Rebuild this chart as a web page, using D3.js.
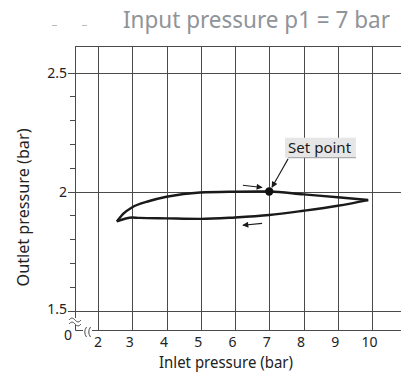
<!DOCTYPE html>
<html>
<head>
<meta charset="utf-8">
<script src="https://cdn.jsdelivr.net/npm/d3@7"></script>
<style>
  body { margin: 0; background: #fff; }
  svg { display: block; }
  text { font-family: "Noto Sans", "Open Sans", sans-serif; }
</style>
</head>
<body>
<svg id="chart" width="401" height="376"></svg>
<script>
// Axis ticks
const xTicks = [2, 3, 4, 5, 6, 7, 8, 9, 10];
const yMajor = [1.5, 2, 2.5];
const yMinor = [1.6, 1.7, 1.8, 1.9, 2.1, 2.2, 2.3, 2.4];

// Hysteresis loop: rising branch (upper) and falling branch (lower), inlet vs outlet pressure
const upperInlet  = [2.55, 2.75, 2.99, 3.5, 4.0, 4.98, 6.0, 7.0, 8.0, 9.0, 9.89];
const upperOutlet = [1.874, 1.908, 1.933, 1.960, 1.978, 1.996, 1.999, 2.0, 1.988, 1.976, 1.964];
const lowerInlet  = [2.55, 3.0, 3.2, 4.0, 5.0, 6.0, 7.0, 8.0, 9.0, 9.89];
const lowerOutlet = [1.874, 1.891, 1.889, 1.887, 1.885, 1.891, 1.901, 1.919, 1.940, 1.964];

const setPoint = { inlet: 7, outlet: 2 };
const titleText = "Input pressure p1 = 7 bar";

const svg = d3.select("#chart");
const W = 401;
const plotLeft = 75, plotTop = 46, plotBottom = 330.5;

const x = d3.scaleLinear().domain([2, 10]).range([98, 372]);
const y = d3.scaleLinear().domain([1.5, 2.5]).range([310.5, 72.5]);

const gridColor = "#4a4a4a";
const crisp = v => Math.round(v) + 0.5;

// Title
svg.append("text")
  .attr("x", 123).attr("y", 28)
  .attr("font-size", 23)
  .attr("fill", "#8f9499")
  .attr("textLength", 267)
  .attr("lengthAdjust", "spacingAndGlyphs")
  .text(titleText);
svg.append("g").attr("stroke", "#b8bcc0").attr("stroke-width", 1)
  .selectAll("line").data([52, 82]).join("line")
  .attr("x1", d => d).attr("x2", d => d + 5)
  .attr("y1", 25.5).attr("y2", 25.5);

// Frame top
svg.append("line")
  .attr("x1", plotLeft).attr("x2", W)
  .attr("y1", crisp(plotTop)).attr("y2", crisp(plotTop))
  .attr("stroke", gridColor);

// Vertical gridlines
svg.append("g").selectAll("line").data(xTicks).join("line")
  .attr("x1", d => crisp(x(d))).attr("x2", d => crisp(x(d)))
  .attr("y1", plotTop).attr("y2", plotBottom)
  .attr("stroke", gridColor);

// Horizontal gridlines at major values
svg.append("g").selectAll("line").data(yMajor).join("line")
  .attr("x1", 68).attr("x2", W)
  .attr("y1", d => crisp(y(d))).attr("y2", d => crisp(y(d)))
  .attr("stroke", gridColor);

// Minor ticks on the outlet axis
svg.append("g").selectAll("line").data(yMinor).join("line")
  .attr("x1", 70).attr("x2", plotLeft)
  .attr("y1", d => crisp(y(d))).attr("y2", d => crisp(y(d)))
  .attr("stroke", gridColor);

// Left axis line down to the break
svg.append("line")
  .attr("x1", crisp(plotLeft)).attr("x2", crisp(plotLeft))
  .attr("y1", plotTop).attr("y2", 318)
  .attr("stroke", gridColor);

// Axis breaks and origin corner
const brk = svg.append("g").attr("fill", "none").attr("stroke", gridColor).attr("stroke-width", 1);
brk.append("path").attr("d", "M69,320 c2,-2.5 4,-2.5 6,0 s4,2.5 6,0");
brk.append("path").attr("d", "M69,324 c2,-2.5 4,-2.5 6,0 s4,2.5 6,0");
brk.append("path").attr("d", `M${crisp(plotLeft)},325 V${plotBottom} H83`);
brk.append("path").attr("d", "M86.5,327 q-3.5,5 0,10");
brk.append("path").attr("d", "M90.5,327 q-3.5,5 0,10");
svg.append("line")
  .attr("x1", 92).attr("x2", W)
  .attr("y1", plotBottom).attr("y2", plotBottom)
  .attr("stroke", gridColor);

// Tick labels
svg.append("g").attr("font-size", 14).attr("fill", "#222").attr("text-anchor", "middle")
  .selectAll("text").data(xTicks).join("text")
  .attr("x", d => x(d) - (d === 2 ? 0 : 2.5))
  .attr("y", 347)
  .text(d => d);

svg.append("g").attr("font-size", 14).attr("fill", "#222").attr("text-anchor", "end")
  .selectAll("text").data(yMajor).join("text")
  .attr("x", 67)
  .attr("y", d => y(d) + (d === 1.5 ? 3 : 5))
  .text(d => d);

svg.append("text")
  .attr("x", 72).attr("y", 340)
  .attr("font-size", 14).attr("fill", "#222").attr("text-anchor", "end")
  .text("0");

// Axis titles
svg.append("text")
  .attr("x", 226).attr("y", 368)
  .attr("font-size", 16).attr("fill", "#222").attr("text-anchor", "middle")
  .attr("textLength", 134).attr("lengthAdjust", "spacingAndGlyphs")
  .text("Inlet pressure (bar)");

svg.append("text")
  .attr("transform", "translate(29,207.5) rotate(-90)")
  .attr("font-size", 16).attr("fill", "#222").attr("text-anchor", "middle")
  .attr("textLength", 158).attr("lengthAdjust", "spacingAndGlyphs")
  .text("Outlet pressure (bar)");

// Hysteresis loop
const line = d3.line()
  .x(d => x(d[0])).y(d => y(d[1]))
  .curve(d3.curveMonotoneX);

const upper = upperInlet.map((v, i) => [v, upperOutlet[i]]);
const lower = lowerInlet.map((v, i) => [v, lowerOutlet[i]]);

svg.append("g").attr("fill", "none").attr("stroke", "#1a1a1a")
  .attr("stroke-width", 2.4).attr("stroke-linejoin", "miter")
  .selectAll("path").data([upper, lower]).join("path")
  .attr("d", line);

// Direction arrows and set point callout
const defs = svg.append("defs");
defs.append("marker")
  .attr("id", "head").attr("viewBox", "0 0 10 10")
  .attr("refX", 9).attr("refY", 5)
  .attr("markerWidth", 7).attr("markerHeight", 6)
  .attr("markerUnits", "userSpaceOnUse")
  .attr("orient", "auto")
  .append("path").attr("d", "M0,0 L10,5 L0,10 Z").attr("fill", "#1a1a1a");

const arrows = [
  { from: [6.23, 2.026], to: [6.79, 2.017] },
  { from: [6.79, 1.866], to: [6.23, 1.858] },
  { from: [7.55, 2.137], to: [7.08, 2.018] }
];
svg.append("g").attr("stroke", "#1a1a1a").attr("stroke-width", 1.1)
  .selectAll("line").data(arrows).join("line")
  .attr("x1", d => x(d.from[0])).attr("y1", d => y(d.from[1]))
  .attr("x2", d => x(d.to[0])).attr("y2", d => y(d.to[1]))
  .attr("marker-end", "url(#head)");

svg.append("circle")
  .attr("cx", x(setPoint.inlet)).attr("cy", y(setPoint.outlet))
  .attr("r", 4.2).attr("fill", "#111");

const labelBox = { x0: 7.46, x1: 9.53, y0: 2.226, y1: 2.142 };
svg.append("rect")
  .attr("x", x(labelBox.x0)).attr("y", y(labelBox.y0))
  .attr("width", x(labelBox.x1) - x(labelBox.x0))
  .attr("height", y(labelBox.y1) - y(labelBox.y0))
  .attr("fill", "#e6e6e6");
svg.append("line")
  .attr("x1", x(labelBox.x0) + 3).attr("x2", x(labelBox.x1))
  .attr("y1", y(labelBox.y1)).attr("y2", y(labelBox.y1))
  .attr("stroke", "#9a9a9a").attr("stroke-width", 1);
svg.append("text")
  .attr("x", x(7.55)).attr("y", y(2.163))
  .attr("font-size", 15).attr("fill", "#1a1a1a")
  .attr("textLength", 63).attr("lengthAdjust", "spacingAndGlyphs")
  .text("Set point");
</script>
</body>
</html>
